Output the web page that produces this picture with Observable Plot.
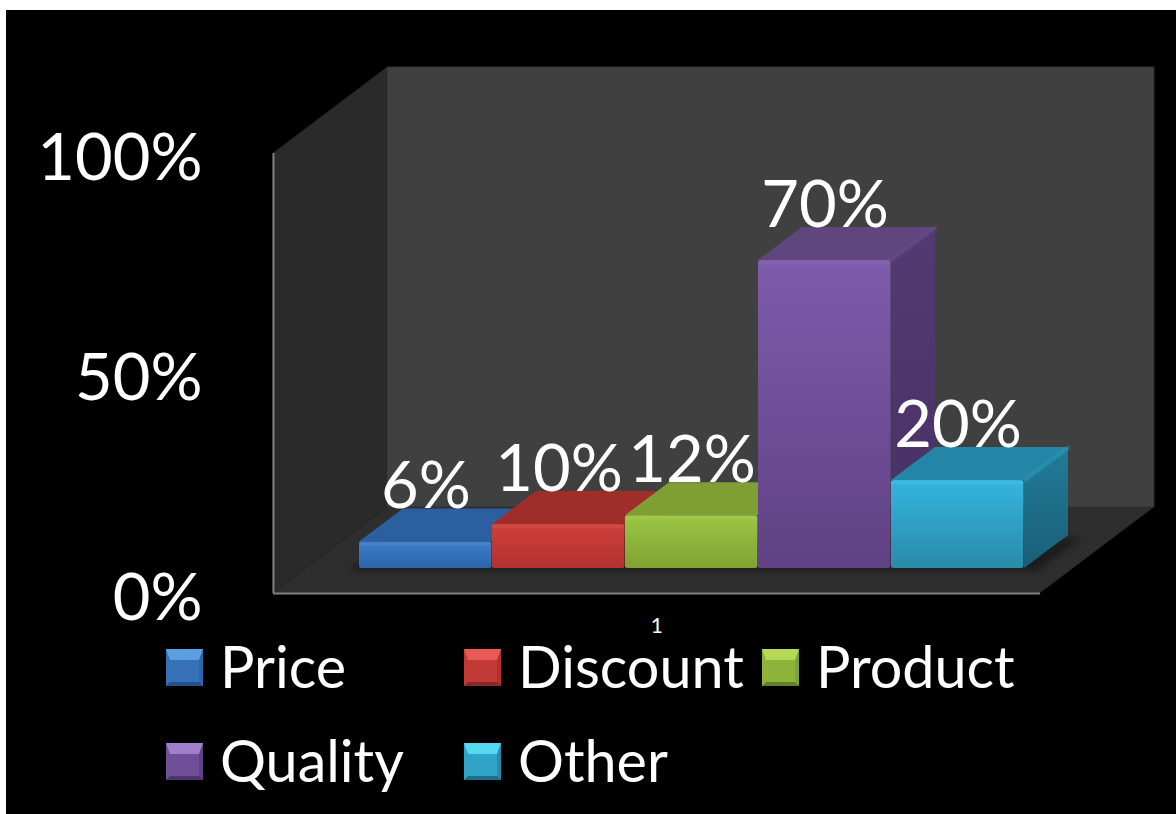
<!DOCTYPE html>
<html>
<head>
<meta charset="utf-8">
<script src="https://cdn.jsdelivr.net/npm/d3@7"></script>
<script src="https://cdn.jsdelivr.net/npm/@observablehq/plot@0.6"></script>
<style>
  html, body { margin: 0; padding: 0; background: #fff; overflow: hidden; }
  #panel { position: absolute; left: 6px; top: 10px; width: 1170px; height: 804px; background: #000; font-family: Lato, sans-serif; color: #fff; }
  #panel svg { display: block; background: transparent; }
  #legend { position: absolute; left: 160px; top: 639px; display: grid; grid-template-columns: 298px 298px 298px; grid-auto-rows: 37px; row-gap: 57px; }
  .entry { display: flex; align-items: center; font-size: 57.5px; line-height: 37px; white-space: nowrap; }
  .swatch { box-sizing: border-box; width: 37px; height: 37px; border-style: solid; border-width: 11px 4px 4px 4px; margin-right: 17px; flex: none; filter: blur(0.7px); }
  .entry span:last-child { position: relative; top: -2px; }
</style>
</head>
<body>
<div id="panel"><div id="chart"></div><div id="legend"></div></div>
<script>
// Survey shares, one bar per factor
const factors = ["Price", "Discount", "Product", "Quality", "Other"];
const shares = [6, 10, 12, 70, 20];
const yTicks = [0, 50, 100];
const categoryLabels = ["1"];

// Per-factor palettes: front top, front bottom, top face, side top, side bottom, bevel tones
const frontTop = ["#3c7ecb", "#cf3f3b", "#9cc744", "#7f5bab", "#35b5de"];
const frontBottom = ["#2c66aa", "#b2322e", "#7fa232", "#604184", "#2a8aa9"];
const topFace = ["#2b5f9f", "#9f2e2a", "#7f9e34", "#60467f", "#2486a6"];
const sideTop = ["#24508a", "#842622", "#69832b", "#533a72", "#217b99"];
const sideBottom = ["#1f4577", "#70201d", "#596f24", "#483062", "#1a5f77"];
const swatchMid = ["#3671b8", "#c23a36", "#8db33a", "#704f98", "#30a3c6"];
const swatchLight = ["#5a9fe0", "#e85a55", "#b5d957", "#a07fcb", "#55d8f2"];
const swatchDark = ["#25528c", "#8a2825", "#64802a", "#4d3570", "#1f6f8a"];

// Depth of one bar and of the whole floor, in scale units
const barDepth = {x: 0.331, y: 7.5};
const roomDepth = {x: 0.857, y: 19.55};
// Front edge of the floor, in scale units
const room = {x: -0.647, y: -5.68, width: 5.767, height: 100};

const rows = factors.map((name, i) => ({name, i, value: shares[i]}));

// Gradients referenced by the bar faces
function gradients() {
  const g = d3.create("svg:g");
  const defs = g.append("defs");
  rows.forEach(({i}) => {
    const stops = (id, pairs) => {
      const lg = defs.append("linearGradient").attr("id", id).attr("x1", 0).attr("y1", 0).attr("x2", 0).attr("y2", 1);
      pairs.forEach(([o, c]) => lg.append("stop").attr("offset", o).attr("stop-color", c));
    };
    stops(`front${i}`, [[0, frontTop[i]], [1, frontBottom[i]]]);
    stops(`side${i}`, [[0, sideTop[i]], [1, sideBottom[i]]]);
  });
  return g.node();
}

// A parallelogram that recedes from the front edge [x1, x2] at height y
const horizontalFace = (x1, x2, y, depth) => [
  {y, x1, x2},
  {y: y + depth.y, x1: x1 + depth.x, x2: x2 + depth.x}
];
// A parallelogram that recedes from the vertical front edge [y1, y2] at x
const verticalFace = (x, y1, y2, depth) => [
  {x, y1, y2},
  {x: x + depth.x, y1: y1 + depth.y, y2: y2 + depth.y}
];

const marks = [
  gradients,
  // Back wall
  Plot.rect([room], {
    x1: d => d.x + roomDepth.x, x2: d => d.x + roomDepth.x + d.width,
    y1: d => d.y + roomDepth.y, y2: d => d.y + roomDepth.y + d.height,
    fill: "#404040", stroke: "#333"
  }),
  // Left wall
  Plot.areaY(verticalFace(room.x, room.y, room.y + room.height, roomDepth), {x: "x", y1: "y1", y2: "y2", fill: "#2a2a2a"}),
  // Floor
  Plot.areaX(horizontalFace(room.x, room.x + room.width, room.y, roomDepth), {y: "y", x1: "x1", x2: "x2", fill: "#2e2e2e"}),
  // Axis edges
  Plot.ruleX([room.x], {y1: room.y, y2: room.y + room.height, stroke: "#808080", strokeWidth: 2}),
  Plot.ruleY([room.y], {x1: room.x, x2: room.x + room.width, stroke: "#808080", strokeWidth: 2}),
  // Soft contact shadow beneath the bars
  Plot.areaX(horizontalFace(-0.08, 5.1, -0.7, barDepth), {y: "y", x1: "x1", x2: "x2", fill: "#1d1d1d", imageFilter: "blur(3px)"})
];

rows.forEach(({i, value}) => {
  marks.push(
    Plot.areaX(horizontalFace(i, i + 1, value, barDepth), {y: "y", x1: "x1", x2: "x2", fill: topFace[i]}),
    Plot.areaY(verticalFace(i + 1, 0, value, barDepth), {x: "x", y1: "y1", y2: "y2", fill: `url(#side${i})`}),
    // Rounded bevel running along the top face's right edge
    Plot.line([{x: i + 1, y: value}, {x: i + 1 + barDepth.x, y: value + barDepth.y}], {
      x: "x", y: "y", stroke: frontTop[i], strokeOpacity: 0.45, strokeWidth: 3, imageFilter: "blur(1px)"
    }),
    Plot.rectY([value], {x1: i, x2: i + 1, y: d => d, fill: `url(#front${i})`, insetRight: 0.5, r: 2.5}),
    // Bevel highlight along the front's top edge
    Plot.ruleY([value], {x1: i, x2: i + 1, insetRight: 1, stroke: "#fff", strokeOpacity: 0.07, strokeWidth: 3, dy: 2, imageFilter: "blur(1px)"})
  );
});

marks.push(
  Plot.axisY({
    ticks: yTicks, tickFormat: d => `${d}%`, anchor: "left", tickSize: 0, tickPadding: 0,
    label: null, fontSize: 65, fill: "#fff", dy: 31
  }),
  Plot.text(categoryLabels, {x: room.x + room.width / 2, y: room.y, dy: 33, text: d => d, fontSize: 21, fill: "#fff"}),
  Plot.text(rows, {
    x: d => d.i + 0.5, y: d => d.value + barDepth.y, text: d => `${d.value}%`,
    fontSize: 65, fill: "#fff", lineAnchor: "bottom", dy: -1
  })
);

const chart = Plot.plot({
  width: 1170,
  height: 629,
  marginTop: 0, marginRight: 0, marginBottom: 0, marginLeft: 196,
  x: {type: "linear", domain: [0, factors.length], range: [353, 1018], axis: null},
  y: {type: "linear", domain: [0, 100], range: [558, 118], axis: null},
  style: {background: "transparent", fontFamily: "Lato, sans-serif", overflow: "visible"},
  marks
});
document.getElementById("chart").append(chart);

// Legend entries, three to a row
const legend = d3.select("#legend");
rows.forEach(({name, i}) => {
  const entry = legend.append("div").attr("class", "entry");
  entry.append("span").attr("class", "swatch")
    .style("background", swatchMid[i])
    .style("border-top-color", swatchLight[i])
    .style("border-left-color", swatchMid[i])
    .style("border-right-color", frontBottom[i])
    .style("border-bottom-color", swatchDark[i]);
  entry.append("span").text(name);
});
</script>
</body>
</html>
